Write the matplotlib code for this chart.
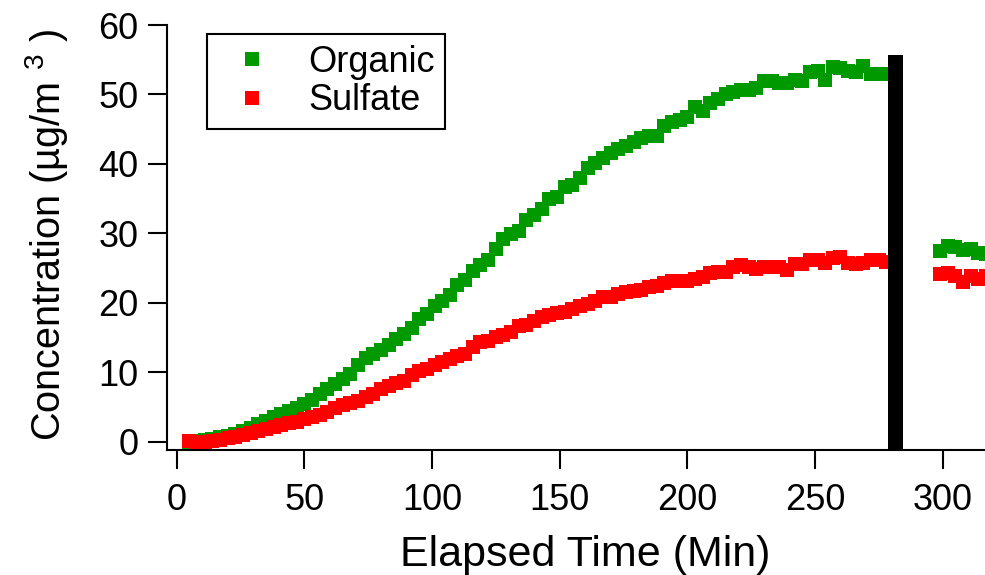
import numpy as np
import matplotlib
matplotlib.use("Agg")
import matplotlib.pyplot as plt

plt.rcParams['font.family'] = ['Liberation Sans', 'DejaVu Sans']
plt.rcParams['mathtext.fontset'] = 'custom'
plt.rcParams['mathtext.rm'] = 'Liberation Sans'
plt.rcParams['mathtext.it'] = 'Liberation Sans'

# 시간 (min), 3분 간격
time = [5, 8, 11, 14, 17, 20, 23, 26, 29, 32, 35, 38, 41, 44, 47, 50, 53, 56, 59, 62,
        65, 68, 71, 74, 77, 80, 83, 86, 89, 92, 95, 98, 101, 104, 107, 110, 113, 116, 119, 122,
        125, 128, 131, 134, 137, 140, 143, 146, 149, 152, 155, 158, 161, 164, 167, 170, 173, 176, 179, 182,
        185, 188, 191, 194, 197, 200, 203, 206, 209, 212, 215, 218, 221, 224, 227, 230, 233, 236, 239, 242,
        245, 248, 251, 254, 257, 260, 263, 266, 269, 272, 275, 278]

organic = [0.0, 0.1, 0.2, 0.4, 0.6, 0.8, 1.1, 1.5, 2.0, 2.5, 3.0, 3.5, 4.0, 4.4, 4.9, 5.4, 6.0, 6.9, 7.6, 8.3,
           9.0, 9.8, 11.0, 12.0, 12.6, 13.2, 13.9, 14.8, 15.5, 16.3, 17.6, 18.4, 19.5, 20.2, 21.1, 22.5, 23.3, 24.6, 25.5, 26.2,
           27.8, 29.2, 29.9, 30.3, 31.9, 32.6, 33.5, 35.0, 35.3, 36.7, 37.0, 38.0, 39.4, 40.2, 40.9, 41.5, 42.2, 42.6, 43.2, 43.8,
           44.0, 44.0, 45.5, 46.1, 46.3, 46.8, 48.2, 47.6, 48.7, 49.3, 50.1, 50.3, 50.6, 50.7, 50.9, 52.0, 51.9, 51.7, 51.7, 52.1,
           52.0, 53.3, 53.4, 52.1, 53.9, 53.8, 53.4, 53.2, 54.1, 53.0, 52.9, 53.0]

sulfate = [0.1, 0.0, 0.0, 0.1, 0.3, 0.5, 0.7, 1.0, 1.2, 1.5, 1.8, 2.1, 2.4, 2.7, 2.9, 3.2, 3.5, 3.9, 4.3, 4.8,
           5.3, 5.6, 5.9, 6.4, 6.9, 7.6, 8.0, 8.4, 8.7, 9.6, 10.2, 10.4, 11.0, 11.5, 11.9, 12.3, 12.6, 13.6, 14.3, 14.5,
           15.1, 15.4, 15.8, 16.6, 16.8, 17.4, 17.9, 18.3, 18.6, 18.7, 19.1, 19.5, 19.8, 20.2, 20.8, 20.9, 21.2, 21.5, 21.7, 21.9,
           22.3, 22.4, 22.8, 23.2, 23.2, 23.2, 23.4, 23.7, 24.3, 24.5, 24.5, 25.1, 25.4, 25.2, 24.9, 25.2, 25.2, 25.1, 24.7, 25.6,
           25.6, 26.2, 26.2, 25.7, 26.4, 26.6, 25.7, 25.6, 25.8, 26.2, 26.1, 25.9]

# 공백 이후 데이터
time2 = [299, 302, 305, 308, 311, 314, 317]
organic2 = [27.5, 28.2, 28.1, 27.6, 27.7, 27.2, 27.0]
sulfate2 = [24.1, 24.3, 23.8, 23.0, 23.8, 23.4, 23.8]

# 검은 막대
bar_time = [281.7]
bar_top = [55.7]

xticks = [0, 50, 100, 150, 200, 250, 300]
yticks = [0, 10, 20, 30, 40, 50, 60]

green = '#009900'
red = '#ff0000'
ymin = -1.2

fig = plt.figure(figsize=(9.85, 5.75), dpi=100)
ax = fig.add_axes([0.1692, 0.2174, 0.8308, 0.7391])

ax.plot(time, organic, 's', color=green, ms=9.7, mew=0, label='Organic', zorder=3)
ax.plot(time2, organic2, 's', color=green, ms=9.7, mew=0, zorder=3)
ax.plot(time, sulfate, 's', color=red, ms=9.7, mew=0, label='Sulfate', zorder=4)
ax.plot(time2, sulfate2, 's', color=red, ms=9.7, mew=0, zorder=4)

ax.bar(bar_time, np.array(bar_top) - ymin, bottom=ymin, width=5.9, color='black', zorder=5)

ax.set_xlim(-3.9, 316.6)
ax.set_ylim(ymin, 60)
ax.set_xticks(xticks)
ax.set_yticks(yticks)

for s in ['top', 'right']:
    ax.spines[s].set_visible(False)
for s in ['left', 'bottom']:
    ax.spines[s].set_linewidth(1.5)
    ax.spines[s].set_color('black')

ax.tick_params(axis='both', direction='out', length=13.5, width=1.5, pad=7, labelsize=26)
ax.tick_params(axis='x', pad=10)

ax.set_xlabel('Elapsed Time (Min)', fontsize=31)
ax.set_ylabel(r'Concentration (µg/m$^{\ \,3}$ )', fontsize=28.5)
ax.xaxis.set_label_coords(0.511, -0.2)
ax.yaxis.set_label_coords(-0.118, 0.505)

leg = ax.legend(loc='upper left', bbox_to_anchor=(0.0492, 0.9788), borderaxespad=0,
                fontsize=26, frameon=True, fancybox=False, framealpha=1, edgecolor='black',
                borderpad=0.3, handlelength=1.9, handletextpad=0.6, labelspacing=0.1,
                numpoints=1)
leg.get_frame().set_linewidth(1.5)

fig.savefig('out.png', dpi=100)
